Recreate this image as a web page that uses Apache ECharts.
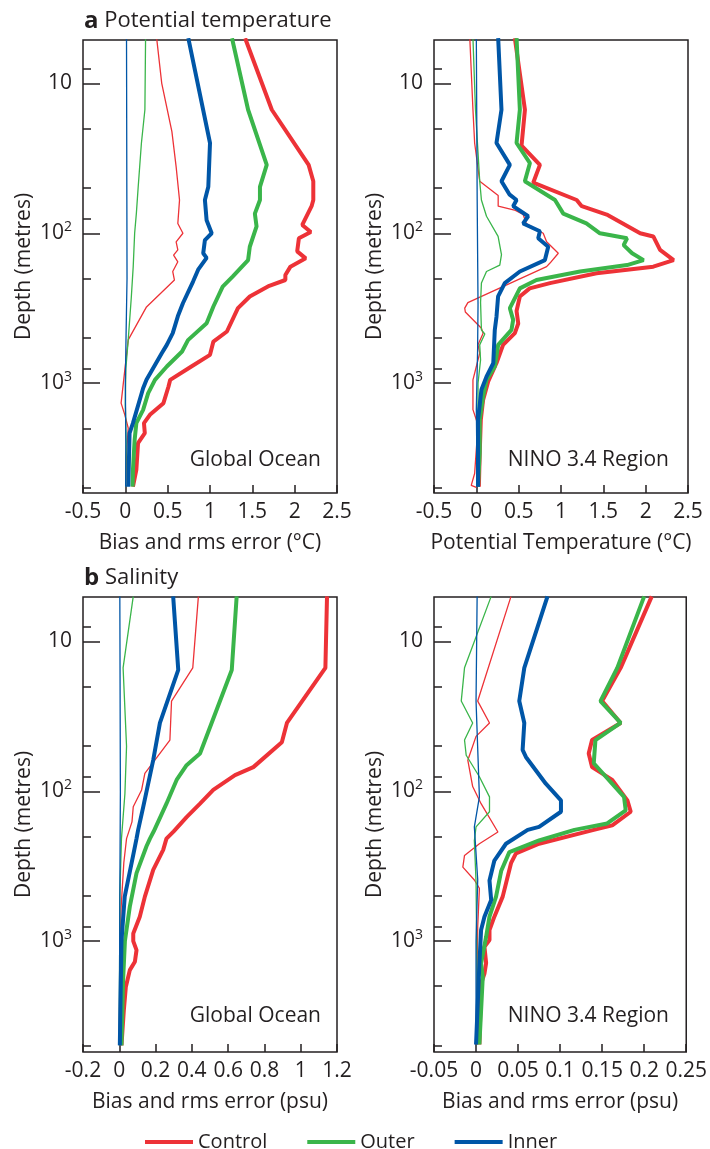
<!DOCTYPE html>
<html><head><meta charset="utf-8">
<script src="https://cdn.jsdelivr.net/npm/echarts@6/dist/echarts.min.js"></script>
<style>html,body{margin:0;padding:0;background:#fff}#chart{width:710px;height:1149px}</style>
</head><body><div id="chart"></div>
<script>
// ---------- data: [value, depth (m)] ----------
const tempGlobalControlRms = [[1.415,5],[1.73,15],[2.165,35],[2.22,45],[2.22,60],[2.2,66],[2.09,88],[2.19,98],[2.05,108],[2.03,132],[2.13,147],[1.95,167],[1.89,190],[1.89,205],[1.7,224],[1.47,264],[1.33,316],[1.2,452],[1.04,528],[1.0,647],[0.78,774],[0.53,950],[0.51,1052],[0.45,1359],[0.29,1626],[0.22,1848],[0.23,2154],[0.15,2512],[0.13,3782],[0.09,4900]];
const tempGlobalOuterRms = [[1.26,5],[1.45,15],[1.67,35],[1.59,49],[1.59,60],[1.53,74],[1.55,90],[1.47,123],[1.45,151],[1.27,194],[1.15,227],[1.04,308],[0.96,398],[0.74,516],[0.67,615],[0.49,774],[0.35,950],[0.27,1166],[0.21,1507],[0.13,1848],[0.11,2388],[0.09,3782],[0.085,4900]];
const tempGlobalInnerRms = [[0.744,5],[1.0,25],[0.98,49],[0.94,60],[0.96,82],[1.02,100],[0.94,111],[0.92,136],[0.96,146],[0.86,175],[0.8,210],[0.68,293],[0.62,358],[0.56,464],[0.49,555],[0.43,631],[0.25,950],[0.21,1080],[0.09,1848],[0.05,2154],[0.035,4900]];
const tempGlobalControlBias = [[0.37,5],[0.43,10],[0.55,21],[0.6,36],[0.64,60],[0.62,86],[0.68,100],[0.6,114],[0.62,129],[0.57,140],[0.62,155],[0.56,180],[0.58,205],[0.25,310],[0.034,514],[0.006,710],[-0.05,1359],[-0.006,1626],[0.034,1990],[0.014,3000],[0.006,4900]];
const tempGlobalOuterBias = [[0.239,5],[0.231,15],[0.19,25],[0.152,49],[0.13,74],[0.11,100],[0.093,167],[0.07,270],[0.034,514],[0.006,800],[0.0,1400],[0.01,2500],[0.005,4900]];
const tempGlobalInnerBias = [[0.014,5],[0.018,60],[0.02,200],[0.008,500],[0.0,1000],[0.006,2500],[0.004,4900]];

const tempNinoControlRms = [[0.455,5],[0.574,15],[0.534,26],[0.751,35],[0.672,46],[1.185,60],[1.245,66],[1.54,75],[1.935,100],[2.09,105],[2.17,129],[2.33,151],[2.09,167],[1.42,185],[0.87,215],[0.63,233],[0.514,264],[0.475,330],[0.495,400],[0.455,464],[0.316,555],[0.237,736],[0.14,975],[0.08,1292],[0.053,1754],[0.04,2929],[0.03,4900]];
const tempNinoOuterRms = [[0.475,5],[0.514,15],[0.475,25],[0.633,34],[0.573,45],[0.929,60],[1.027,74],[1.3,86],[1.46,100],[1.78,108],[1.74,120],[1.84,136],[1.975,151],[1.78,163],[1.225,180],[0.71,205],[0.514,233],[0.396,316],[0.435,378],[0.415,441],[0.258,555],[0.218,774],[0.12,950],[0.08,1227],[0.04,1754],[0.04,2900],[0.02,4900]];
const tempNinoInnerRms = [[0.258,5],[0.297,15],[0.238,25],[0.396,35],[0.297,45],[0.39,55],[0.475,60],[0.435,66],[0.612,77],[0.553,86],[0.751,97],[0.731,108],[0.849,123],[0.81,151],[0.514,180],[0.336,215],[0.257,264],[0.238,360],[0.218,441],[0.2,736],[0.12,904],[0.06,1107],[0.02,1754],[0.02,4900]];
const tempNinoControlBias = [[-0.077,5],[-0.04,15],[-0.02,25],[0.04,45],[0.258,56],[0.258,66],[0.45,70],[0.553,75],[0.59,86],[0.79,100],[0.83,114],[0.968,136],[0.87,158],[0.83,167],[-0.1,290],[-0.137,316],[-0.13,335],[0.06,430],[0.08,464],[0.02,555],[0.04,631],[0.0,774],[-0.04,950],[-0.04,1500],[0.02,1900],[-0.02,4000],[-0.06,4800],[0.0,4950]];
const tempNinoOuterBias = [[-0.04,5],[-0.01,15],[0.04,45],[0.06,60],[0.12,77],[0.257,105],[0.297,139],[0.277,163],[0.12,180],[0.06,215],[0.05,290],[0.06,441],[0.1,470],[0.04,555],[0.05,700],[0.02,1000],[0.02,3000],[0.03,4900]];
const tempNinoInnerBias = [[0.0,5],[0.01,60],[0.02,300],[0.015,600],[0.0,1500],[0.01,4900]];

const salGlobalControlRms = [[1.145,5],[1.136,15],[0.924,35],[0.896,47],[0.739,69],[0.638,78],[0.518,98],[0.445,121],[0.371,149],[0.3,185],[0.26,207],[0.242,246],[0.187,335],[0.141,505],[0.113,687],[0.077,889],[0.077,1000],[0.095,1149],[0.086,1374],[0.058,1563],[0.036,2024],[0.025,2898],[0.012,4966]];
const salGlobalOuterRms = [[0.647,5],[0.62,15.5],[0.445,56],[0.371,67],[0.316,84],[0.26,121],[0.19,185],[0.169,207],[0.15,233],[0.095,352],[0.058,589],[0.031,1000],[0.021,1824],[0.012,4966]];
const salGlobalInnerRms = [[0.297,5],[0.325,15.5],[0.224,35],[0.187,62],[0.132,127],[0.104,181],[0.095,207],[0.077,266],[0.03,505],[0.012,1000],[0.003,4966]];
const salGlobalControlBias = [[0.436,5],[0.405,15],[0.288,25],[0.279,45.5],[0.141,76],[0.123,98],[0.077,127],[0.07,160],[0.04,207],[0.025,300],[0.01,600],[0.003,1500],[0.0,4966]];
const salGlobalOuterBias = [[0.077,5],[0.021,15],[0.04,50],[0.031,104],[0.012,207],[0.003,500],[0.0,4966]];
const salGlobalInnerBias = [[0.003,5],[0.006,100],[0.003,500],[0.0,4966]];

const salNinoControlRms = [[0.209,5],[0.172,15],[0.15,25],[0.172,35],[0.138,45.5],[0.134,56],[0.138,69],[0.162,84],[0.18,115],[0.184,137],[0.162,169],[0.14,181],[0.075,224],[0.0475,260],[0.0416,302],[0.0317,505],[0.0218,687],[0.016,844],[0.016,985],[0.01,1091],[0.012,1400],[0.01,1648],[0.006,1919],[0.004,4900]];
const salNinoOuterRms = [[0.2,5],[0.168,15],[0.148,25],[0.172,35],[0.142,45.5],[0.14,65],[0.176,109],[0.178,134],[0.156,164],[0.117,181],[0.075,213],[0.0396,255],[0.03,339],[0.0238,505],[0.016,687],[0.012,935],[0.006,1412],[0.008,1734],[0.004,4900]];
const salNinoInnerRms = [[0.085,5],[0.0574,15],[0.0514,25],[0.0574,35],[0.0554,53],[0.0593,59],[0.083,89],[0.101,115],[0.101,137],[0.075,173],[0.0614,181],[0.0356,224],[0.0218,290],[0.016,394],[0.018,531],[0.01,687],[0.006,844],[0.004,1412],[0.0,4900]];
const salNinoControlBias = [[0.0416,5],[0.002,25],[0.016,35],[0.0,43],[-0.0098,62],[-0.004,93],[0.006,121],[0.026,187],[0.004,224],[-0.0137,268],[-0.0157,321],[-0.002,391],[0.004,444],[0.002,800],[0.0,4900]];
const salNinoOuterBias = [[0.018,5],[-0.0137,15],[-0.0176,25],[-0.004,35],[-0.0137,45.5],[-0.0117,57.5],[0.004,80],[0.016,109],[0.016,137],[0.0,173],[-0.002,213],[0.0,400],[0.002,4900]];
const salNinoInnerBias = [[0.0013,5],[0.0,25],[0.004,109],[-0.002,173],[0.002,390],[0.0,1000],[0.0,4900]];

// ---------- axis ticks / labels ----------
const depthMajorTicks = [10, 100, 1000];
const depthMinorTicks = [8, 20, 50, 80, 200, 500, 800, 2000, 5000];
const seriesNames = ['Control', 'Outer', 'Inner'];
const panelTitles = ['Global Ocean', 'NINO 3.4 Region', 'Global Ocean', 'NINO 3.4 Region'];
const xAxisNames = ['Bias and rms error (°C)', 'Potential Temperature (°C)', 'Bias and rms error (psu)', 'Bias and rms error (psu)'];
const xRanges = [[-0.5, 2.5, 0.5], [-0.5, 2.5, 0.5], [-0.2, 1.2, 0.2], [-0.05, 0.25, 0.05]];
const depthRanges = [[5.14, 5400], [5.14, 5400], [5.05, 5500], [5.05, 5500]];

const panelData = [
  [tempGlobalControlRms, tempGlobalControlBias, tempGlobalOuterRms, tempGlobalOuterBias, tempGlobalInnerRms, tempGlobalInnerBias],
  [tempNinoControlRms, tempNinoControlBias, tempNinoOuterRms, tempNinoOuterBias, tempNinoInnerRms, tempNinoInnerBias],
  [salGlobalControlRms, salGlobalControlBias, salGlobalOuterRms, salGlobalOuterBias, salGlobalInnerRms, salGlobalInnerBias],
  [salNinoControlRms, salNinoControlBias, salNinoOuterRms, salNinoOuterBias, salNinoInnerRms, salNinoInnerBias]
];

// ---------- style ----------
const FONT = "'Open Sans', sans-serif";
const INK = '#231f20';
const COLORS = ['#ed3237', '#3ab54a', '#0056a7'];
const FS = 21;
const gridBoxes = [
  {left: 83, top: 40, width: 254, height: 453},
  {left: 434, top: 40, width: 254, height: 453},
  {left: 83, top: 597, width: 254, height: 455},
  {left: 434, top: 597, width: 254, height: 455}
];

const grids = [], xAxes = [], yAxes = [], series = [];
gridBoxes.forEach((g, i) => {
  grids.push(Object.assign({show: true, borderColor: INK, borderWidth: 1.5, backgroundColor: 'transparent', containLabel: false}, g));
  const [xmin, xmax, xstep] = xRanges[i];
  xAxes.push({
    type: 'value', gridIndex: i, position: 'bottom', min: xmin, max: xmax, interval: xstep,
    axisLine: {show: false, onZero: false}, splitLine: {show: false},
    axisTick: {show: true, inside: true, length: 8, lineStyle: {color: INK, width: 1.5}},
    axisLabel: {margin: 9, fontSize: FS, color: INK, fontFamily: FONT, showMinLabel: true, showMaxLabel: true},
    name: xAxisNames[i], nameLocation: 'middle', nameGap: 40,
    nameTextStyle: {fontSize: FS, color: INK, fontFamily: FONT}
  });
  const [dmin, dmax] = depthRanges[i];
  yAxes.push({
    type: 'log', logBase: 10, gridIndex: i, position: 'left', inverse: true, min: dmin, max: dmax,
    axisLine: {show: false, onZero: false}, splitLine: {show: false},
    axisTick: {show: true, inside: true, length: 17, customValues: depthMajorTicks, lineStyle: {color: INK, width: 1.5}},
    axisLabel: {
      customValues: depthMajorTicks, margin: 11, color: INK, fontFamily: FONT, fontSize: FS,
      formatter: v => {
        const e = Math.round(Math.log10(v));
        return e === 1 ? '{n|10}' : '{n|10}{s|' + e + '}';
      },
      rich: {
        n: {fontSize: FS, fontFamily: FONT, color: INK, lineHeight: 26},
        s: {fontSize: 14, fontFamily: FONT, color: INK, verticalAlign: 'top', lineHeight: 14}
      }
    },
    name: 'Depth (metres)', nameLocation: 'middle', nameGap: 48,
    nameTextStyle: {fontSize: FS, color: INK, fontFamily: FONT}
  });
  yAxes.push({
    type: 'log', logBase: 10, gridIndex: i, position: 'left', offset: 0, inverse: true, min: dmin, max: dmax,
    axisLine: {show: false, onZero: false}, splitLine: {show: false},
    axisTick: {show: true, inside: true, length: 8, customValues: depthMinorTicks, lineStyle: {color: INK, width: 1.5}},
    axisLabel: {show: false}
  });
  panelData[i].forEach((data, k) => {
    const exp = Math.floor(k / 2);
    const thick = k % 2 === 0;
    series.push({
      type: 'line', name: seriesNames[exp], xAxisIndex: i, yAxisIndex: 2 * i,
      data: data, symbol: 'none', showSymbol: false, clip: true, silent: true,
      z: 2 + exp,
      itemStyle: {color: COLORS[exp]},
      lineStyle: {color: COLORS[exp], width: thick ? 4 : 1.3},
      emphasis: {disabled: true}
    });
  });
});

const titles = [
  {text: '{b|a} Potential temperature', left: 84, top: 9},
  {text: '{b|b} Salinity', left: 84, top: 566}
].map(t => Object.assign(t, {padding: 0, textStyle: {fontSize: 22, fontWeight: 'normal', color: INK, fontFamily: FONT,
  rich: {b: {fontSize: 24, fontWeight: 'bold', color: INK, fontFamily: FONT}}}}));
const labelPos = [
  {right: 389, top: 450}, {right: 41, top: 450}, {right: 389, top: 1006}, {right: 41, top: 1006}
];
panelTitles.forEach((t, i) => {
  titles.push(Object.assign({text: t, padding: 0, textStyle: {fontSize: FS, fontWeight: 'normal', color: INK, fontFamily: FONT}}, labelPos[i]));
});

const chart = echarts.init(document.getElementById('chart'), null, {renderer: 'canvas'});
chart.setOption({
  animation: false,
  backgroundColor: '#fff',
  textStyle: {fontFamily: FONT, color: INK},
  title: titles,
  legend: {
    data: seriesNames, left: 140, top: 1127, icon: 'rect', itemWidth: 48, itemHeight: 4, itemGap: 40,
    selectedMode: false, textStyle: {fontSize: 20, color: INK, fontFamily: FONT}
  },
  grid: grids, xAxis: xAxes, yAxis: yAxes, series: series
});
</script></body></html>
